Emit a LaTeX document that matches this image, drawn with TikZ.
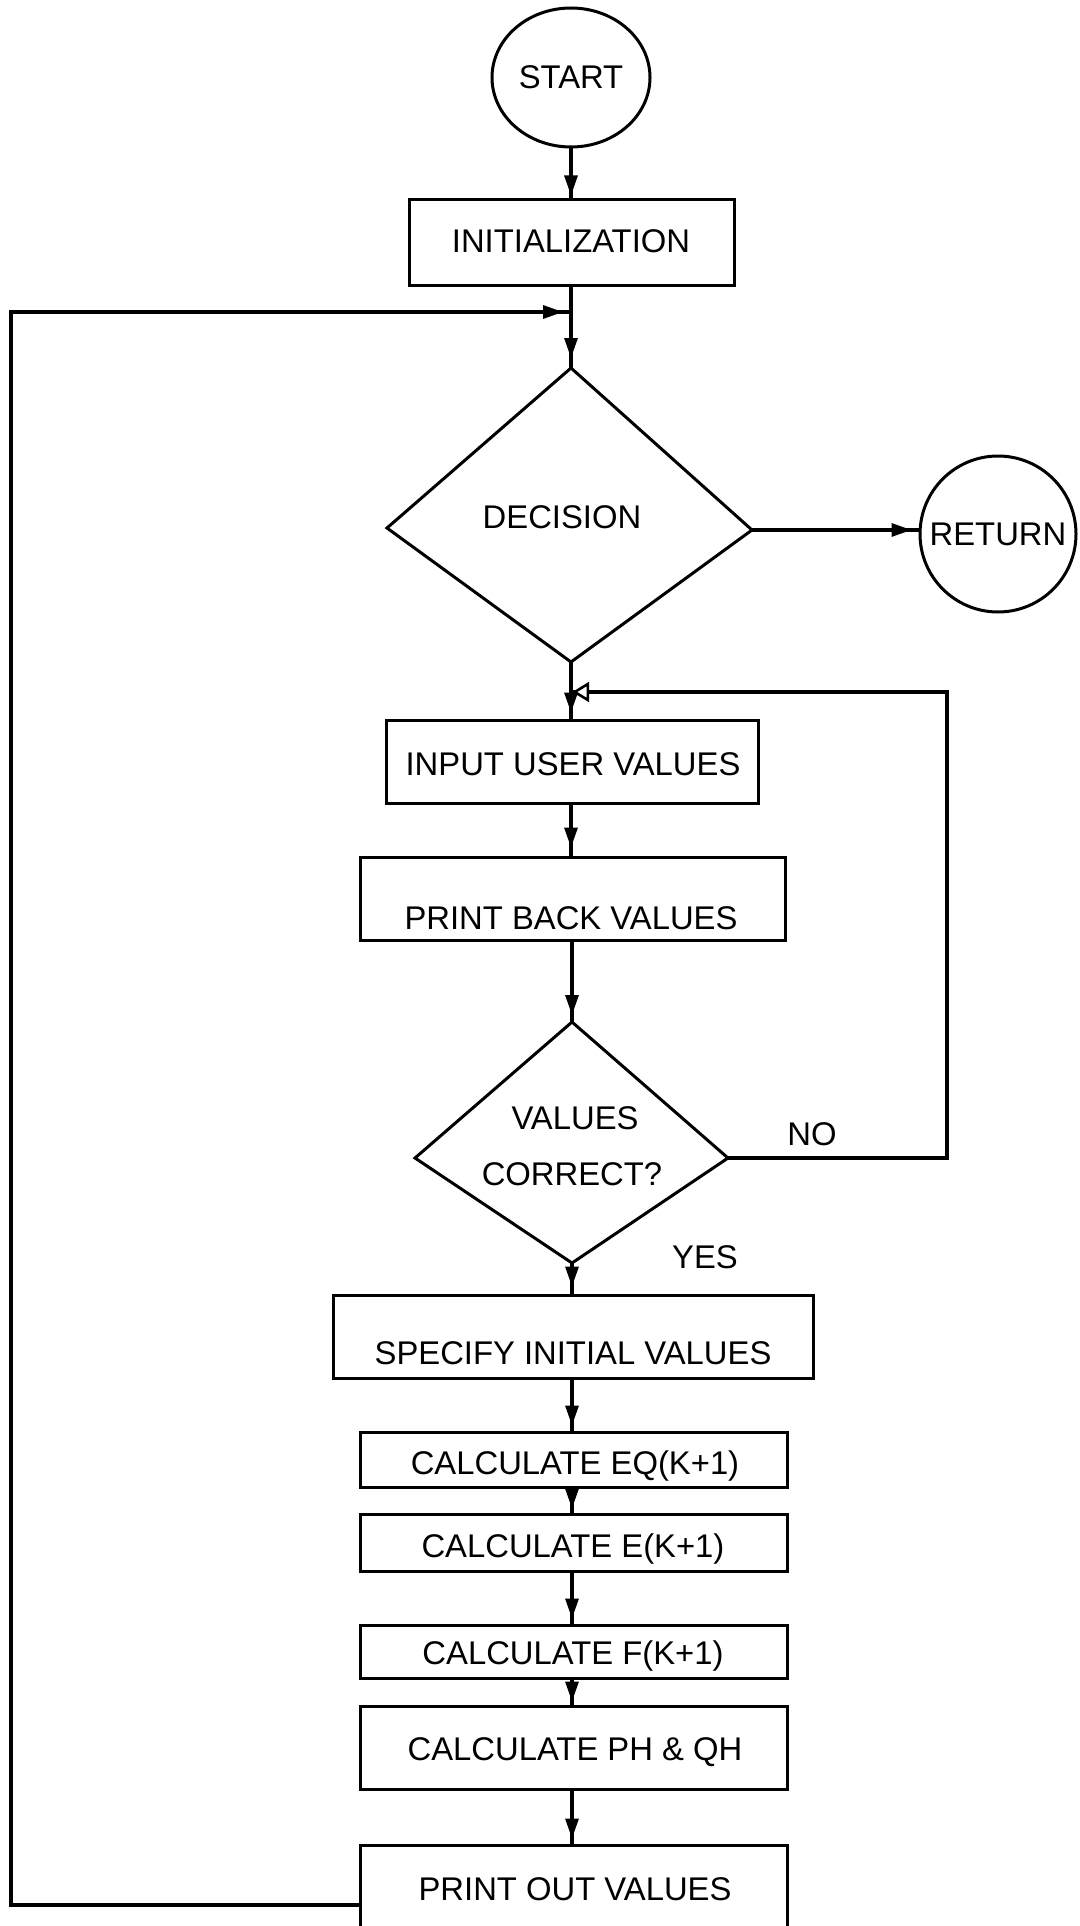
\documentclass[tikz,border=0pt]{standalone}
\usepackage{fontspec}
\setmainfont{Liberation Sans}
\usetikzlibrary{arrows.meta, shapes.geometric, decorations.markings}

\begin{document}
\begin{tikzpicture}[x=0.5pt, y=-0.5pt,
  every node/.style={inner sep=0pt},
  txt/.style={font=\fontsize{16.4}{19}\selectfont},
  lbl/.style={txt, anchor=base},
  procbox/.style={draw, line width=1.5pt, rectangle, inner sep=0pt},
  outline/.style={draw, line width=1.5pt, line join=miter},
  wire/.style={line width=1.6pt},
  flow/.style={wire, postaction={decorate},
    decoration={markings, mark=at position -#1 with {\arrow{Triangle[length=10pt,width=6.5pt]}}}},
  flow/.default=2.5pt,
  backflow/.style={wire, postaction={decorate},
    decoration={markings, mark=at position -#1 with {\arrow{Triangle[fill=white,length=8.5pt,width=10pt,line width=1.3pt]}}}},
  backflow/.default=0.6pt,
]
\useasboundingbox (0,0) rectangle (1080,1926);
\clip (0,0) rectangle (1080,1926);

% terminals
\node[draw, ellipse, line width=1.5pt, minimum width=79pt, minimum height=69.5pt, txt] (start) at (571,77.5) {START};
\node[draw, circle, line width=1.5pt, minimum size=78pt, txt] (ret) at (998,534) {RETURN};

% process boxes
\node[procbox, minimum width=162.5pt, minimum height=42.5pt] (init) at (571.5,242.5) {};
\node[lbl] (initT) at (571,252) {INITIALIZATION};

\node[procbox, minimum width=186pt, minimum height=41.5pt] (input) at (572,761.5) {};
\node[lbl] (inputT) at (573,775) {INPUT USER VALUES};

\node[procbox, minimum width=212.5pt, minimum height=41.5pt] (pback) at (572.5,898.5) {};
\node[lbl] (pbackT) at (571,929) {PRINT BACK VALUES};

\node[procbox, minimum width=240pt, minimum height=41.5pt] (spec) at (573,1336.5) {};
\node[lbl] (specT) at (573,1364) {SPECIFY INITIAL VALUES};

\node[procbox, minimum width=213.5pt, minimum height=27.5pt] (eq) at (573.5,1459.5) {};
\node[lbl] (eqT) at (575,1474) {CALCULATE EQ(K+1)};

\node[procbox, minimum width=213.5pt, minimum height=28.5pt] (ee) at (573.5,1542.5) {};
\node[lbl] (eeT) at (573,1557) {CALCULATE E(K+1)};

\node[procbox, minimum width=213.5pt, minimum height=26.5pt] (ff) at (573.5,1651.5) {};
\node[lbl] (ffT) at (573,1664) {CALCULATE F(K+1)};

\node[procbox, minimum width=213.5pt, minimum height=41.5pt] (ph) at (573.5,1747.5) {};
\node[lbl] (phT) at (575,1760) {CALCULATE PH \& QH};

\node[procbox, minimum width=213.5pt, minimum height=50pt] (pout) at (573.5,1895) {};
\node[lbl] (poutT) at (575,1900) {PRINT OUT VALUES};

% decision diamonds
\coordinate (d1t) at (571,368);
\coordinate (d1r) at (752,530);
\coordinate (d1b) at (571,662);
\coordinate (d1l) at (387,528);
\draw[outline] (d1t) -- (d1r) -- (d1b) -- (d1l) -- cycle;
\node[lbl] (d1T) at (562,528) {DECISION};

\coordinate (d2t) at (572,1022);
\coordinate (d2r) at (728,1158);
\coordinate (d2b) at (572,1263);
\coordinate (d2l) at (415,1158);
\draw[outline] (d2t) -- (d2r) -- (d2b) -- (d2l) -- cycle;
\node[lbl] (d2Ta) at (575,1129) {VALUES};
\node[lbl] (d2Tb) at (572,1185) {CORRECT?};
\node[lbl] (noT) at (812,1145) {NO};
\node[lbl] (yesT) at (705,1268) {YES};

% junction points
\coordinate (loopin) at (571,312);
\coordinate (lowleft) at (11,1905);
\coordinate (fbin) at (571,692);
\coordinate (fbx) at (947,692);

% main flow
\draw[flow=1.5pt] (start.south) -- (start.south |- init.north);
\draw[flow=5pt] (init.south -| d1t) -- (d1t);
\draw[flow=3pt] (d1b) -- (d1b |- input.north);
\draw[flow=4pt] (input.south -| d1b) -- (d1b |- pback.north);
\draw[flow=3.5pt] (pback.south -| d2t) -- (d2t);
\draw[flow=3.5pt] (d2b) -- (d2b |- spec.north);
\draw[flow=2.5pt] (spec.south -| d2b) -- (d2b |- eq.north);
\draw[flow=2pt] (eq.south -| d2b) -- (d2b |- ee.north);
\draw[flow=2.5pt] (ee.south -| d2b) -- (d2b |- ff.north);
\draw[flow=1.5pt] (ff.south -| d2b) -- (d2b |- ph.north);
\draw[flow=2.5pt] (ph.south -| d2b) -- (d2b |- pout.north);

% exit to RETURN
\draw[flow=3.5pt] (d1r) -- (d1r -| ret.west);

% NO branch back to input
\draw[backflow] (d2r) -- (d2r -| fbx) -- (fbx) -- (fbin);

% outer loop back to decision
\draw[flow=4pt] (pout.west |- lowleft) -- (lowleft) -- (lowleft |- loopin) -- (loopin);
\end{tikzpicture}
\end{document}
